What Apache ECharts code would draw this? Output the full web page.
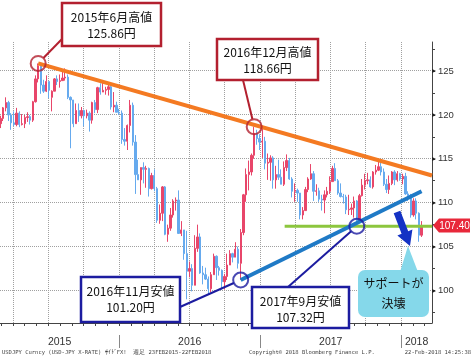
<!DOCTYPE html>
<html><head><meta charset="utf-8">
<script src="https://cdn.jsdelivr.net/npm/echarts@6/dist/echarts.min.js"></script>
<style>html,body{margin:0;padding:0;background:#fff}#c{width:472px;height:359px}</style>
</head><body><div id="c"></div>
<script>
// Weekly USD/JPY candles (week ending Fridays), 27 Feb 2015 - 23 Feb 2018
const firstWeek = Date.UTC(2015, 1, 27);
const opens = [
119.0,119.6,120.8,121.4,120.0,119.1,118.9,120.2,118.9,119.0,119.7,119.8,119.4,121.5,124.1,125.6,123.4,122.7,123.8,122.0,122.7,124.1,123.8,123.9,124.2,124.3,122.0,121.7,119.0,120.5,119.9,120.5,119.9,120.2,119.4,121.4,120.6,123.1,122.6,122.8,122.9,123.2,120.9,121.1,120.3,
120.2,117.2,117.0,118.8,121.1,116.9,113.2,112.6,114.0,113.8,113.9,111.6,113.1,111.6,108.0,108.8,111.8,106.4,107.1,108.6,110.2,110.3,106.5,106.9,104.2,102.2,102.5,100.6,104.8,106.1,102.0,101.8,101.3,100.2,101.8,103.9,102.6,102.3,101.0,101.6,102.9,104.2,103.8,104.7,103.1,106.6,110.9,113.2,113.5,115.4,117.9,117.3,
116.9,117.0,114.5,114.6,115.1,112.6,113.2,112.9,112.1,114.0,114.8,112.7,111.3,111.4,111.1,108.6,109.1,111.5,112.7,113.3,111.3,111.35,110.4,110.3,110.9,111.3,112.4,113.9,112.5,111.1,110.7,110.65,109.2,109.25,109.4,110.2,107.8,110.8,112.0,112.5,112.6,111.8,113.5,113.7,114.1,113.5,112.1,111.5,112.2,113.5,112.6,113.3,
112.7,113.0,111.0,110.8,108.6,110.2,108.8,106.3];
const highs = [
119.9,120.9,122.0,121.6,120.2,120.4,120.8,120.4,120.1,120.0,120.3,120.0,121.6,124.5,125.86,125.6,124.0,124.5,123.8,122.8,124.2,124.5,124.6,125.1,125.3,124.6,122.1,121.7,121.3,121.3,120.9,120.6,120.6,120.4,121.5,121.7,123.2,123.6,123.8,123.2,123.7,123.3,122.6,121.5,120.7,
120.5,118.5,118.9,121.7,121.4,117.7,114.9,114.0,114.6,114.2,114.0,113.4,113.8,111.8,109.8,111.9,111.9,107.5,109.4,110.4,110.6,111.4,107.9,106.9,106.8,103.3,103.0,106.3,107.5,106.5,102.8,102.6,101.6,102.1,104.2,104.0,102.8,102.4,101.9,104.2,104.6,104.3,105.5,105.0,107.0,111.0,113.9,114.8,115.6,118.66,118.3,117.8,
118.6,117.5,115.6,115.4,115.3,114.2,114.9,113.8,114.7,115.5,115.1,112.9,112.2,111.6,111.1,109.5,111.8,112.9,114.4,113.6,112.1,111.7,110.9,111.4,111.8,113.0,114.2,114.5,112.7,112.2,111.0,110.9,110.9,109.9,110.7,110.3,111.0,112.7,113.3,113.4,113.0,113.6,114.3,114.7,114.7,113.9,112.7,113.1,113.6,113.7,113.6,113.4,
113.3,113.4,111.3,111.0,110.5,110.5,108.9,107.9];
const lows = [
118.5,119.3,120.4,119.3,118.3,118.7,118.7,118.6,118.8,118.5,119.2,118.9,119.2,121.4,123.7,122.4,122.5,122.6,121.9,120.4,122.7,123.4,123.1,123.9,123.9,121.8,116.2,118.6,119.0,119.2,119.6,118.7,119.6,118.1,119.0,120.2,120.2,122.3,122.6,122.3,122.2,120.6,120.3,120.3,120.0,
116.7,116.5,116.0,118.0,116.5,111.0,112.6,110.9,112.2,111.7,110.7,111.5,111.3,107.7,107.6,107.9,106.3,105.55,106.8,108.3,109.1,106.5,106.2,103.5,99.0,101.5,99.9,100.6,104.4,101.9,100.7,101.2,99.55,99.8,101.8,101.2,101.7,100.1,100.1,101.2,102.9,103.2,103.8,102.5,101.2,106.3,110.1,111.4,113.1,115.0,116.6,116.0,
115.1,113.8,112.6,112.5,111.6,111.6,112.6,112.1,111.9,113.6,112.6,110.6,110.1,110.1,108.1,108.1,109.1,111.2,112.6,110.2,110.8,110.1,109.1,108.8,110.6,111.0,112.4,112.5,110.9,110.6,109.9,108.7,108.6,108.6,108.3,107.32,107.8,110.7,111.5,112.1,111.7,111.6,113.2,113.6,113.1,111.9,111.1,111.0,112.0,112.0,112.4,112.5,
112.1,110.9,110.2,108.3,108.4,108.1,105.55,106.1];
const closes = [
119.6,120.8,121.4,120.0,119.1,118.9,120.2,118.9,119.0,119.7,119.8,119.4,121.5,124.1,125.6,123.4,122.7,123.8,122.8,122.7,124.1,123.8,123.9,124.2,124.3,122.0,121.7,119.0,120.5,119.9,120.5,119.9,120.2,119.4,121.4,120.6,123.1,122.6,122.8,122.9,123.2,120.9,121.1,120.3,120.2,
117.2,117.0,118.8,121.1,116.9,113.2,112.6,114.0,113.8,113.9,111.6,113.1,111.6,108.0,108.8,111.8,106.4,107.1,108.6,110.2,110.3,106.5,106.9,104.2,102.2,102.5,100.6,104.8,106.1,102.0,101.8,101.3,100.2,101.8,103.9,102.6,102.3,101.0,101.6,102.9,104.2,103.8,104.7,103.1,106.6,110.9,113.2,113.5,115.4,117.9,117.3,116.9,
117.0,114.5,114.6,115.1,112.6,113.2,112.9,112.1,114.0,114.8,112.7,111.3,111.4,111.1,108.6,109.1,111.5,112.7,113.3,111.3,111.35,110.4,110.3,110.9,111.3,112.4,113.9,112.5,111.1,110.7,110.65,109.2,109.25,109.4,110.2,107.8,110.8,112.0,112.5,112.6,111.8,113.5,113.7,114.1,113.5,112.1,111.5,112.2,113.5,112.6,113.3,112.7,
113.0,111.0,110.8,108.6,110.2,108.8,106.3,107.4];

const yMajorTicks = [100, 105, 110, 115, 120, 125];
const yMinorTicks = [97.5, 102.5, 107.5, 112.5, 117.5, 122.5, 127.5];
const yearLabels = ['2015', '2016', '2017', '2018'];

// annotation anchors
const highPts = [[Date.UTC(2015,5,5), 125.86], [Date.UTC(2016,11,16), 118.66]];
const lowPts  = [[Date.UTC(2016,10,11), 101.20], [Date.UTC(2017,8,8), 107.32]];
const resistanceLine = [[Date.UTC(2015,5,5), 125.86], [Date.UTC(2018,2,22), 113.1]];
const supportLine = [[Date.UTC(2016,10,11), 101.20], [Date.UTC(2018,1,23), 111.3]];
const supportLevel = [[Date.UTC(2017,2,5), 107.32], [Date.UTC(2018,2,22), 107.32]];
const lastPrice = 107.40;

const xMin = Date.UTC(2015,1,26), xMax = Date.UTC(2018,2,22);
const yMin = 96.3, yMax = 128.3;

const weekDates = closes.map((_, i) => firstWeek + i * 7 * 864e5);
const candleData = weekDates.map((t, i) => [t, opens[i], closes[i], lows[i], highs[i]]);
const monthStarts = []; for (let y = 2015; y <= 2018; y++) for (let m = 0; m < 12; m++) { const t = Date.UTC(y, m, 1); if (t > xMin && t < xMax) monthStarts.push(t); }
const quarterStarts = monthStarts.filter(t => new Date(t).getUTCMonth() % 3 === 0);
const yearStarts = [2016, 2017, 2018].map(y => Date.UTC(y, 0, 1));

const chart = echarts.init(document.getElementById('c'));
chart.setOption({
  animation: false,
  backgroundColor: '#fff',
  grid: {left: 0, right: 40, top: 42, bottom: 36, containLabel: false, outerBoundsMode: 'none'},
  xAxis: {type: 'time', min: xMin, max: xMax,
    axisLine: {show: true, onZero: false, lineStyle: {color: '#444'}},
    axisTick: {show: true, customValues: monthStarts, length: 3, lineStyle: {color: '#444'}},
    axisLabel: {show: false}, splitLine: {show: false}},
  yAxis: {type: 'value', position: 'right', min: yMin, max: yMax, scale: true,
    axisLine: {show: true, lineStyle: {color: '#444'}},
    axisTick: {show: true, customValues: yMajorTicks.concat(yMinorTicks), length: 3, lineStyle: {color: '#444'}},
    axisLabel: {customValues: yMajorTicks, margin: 0, fontSize: 9.5, color: '#333', fontFamily: 'Liberation Sans',
      formatter: v => '{a|▸}' + v, rich: {a: {fontSize: 8, color: '#222', padding: [0, 2, 0, 0]}}},
    splitLine: {show: false}},
  series: [
    {type: 'candlestick', data: candleData, encode: {x: 0, y: [1, 2, 3, 4]}, barWidth: 1.8, z: 10,
      itemStyle: {color: '#e8466a', color0: '#66aaee', borderColor: '#e8466a', borderColor0: '#66aaee', borderWidth: 1}},
    {type: 'line', data: resistanceLine, symbol: 'none', z: 11, lineStyle: {color: '#f47a22', width: 4}},
    {type: 'line', data: supportLevel, symbol: 'none', z: 11, lineStyle: {color: '#8cc63e', width: 3}},
    {type: 'line', data: supportLine, symbol: 'none', z: 12, lineStyle: {color: '#1f7ac6', width: 4}},
    {type: 'scatter', data: highPts, symbol: 'circle', symbolSize: 15, z: 13,
      itemStyle: {color: 'rgba(0,0,0,0)', borderColor: '#b3202f', borderWidth: 2}},
    {type: 'scatter', data: lowPts, symbol: 'circle', symbolSize: 15, z: 13,
      itemStyle: {color: 'rgba(0,0,0,0)', borderColor: '#1c1ca0', borderWidth: 2}}
  ]
});

function px(p) { return chart.convertToPixel({gridIndex: 0}, p); }
const g = [];
const lX = px([xMin, yMin])[0], rX = px([xMax, yMin])[0];
const topY = Math.round(px([xMin, yMax])[1]), botY = Math.round(px([xMin, yMin])[1]);
// dotted grid at the tick positions
const gl = {stroke: '#a0a0a0', lineWidth: 1, lineDash: [1, 1]};
quarterStarts.forEach(t => { const x = Math.floor(px([t, 110])[0]) + 0.5; g.push({type: 'line', z: 9, silent: true, shape: {x1: x, y1: topY, x2: x, y2: botY}, style: gl}); });
yMajorTicks.forEach(v => { const y = Math.floor(px([xMin, v])[1]) + 0.5; g.push({type: 'line', z: 9, silent: true, shape: {x1: Math.ceil(lX), y1: y, x2: rX, y2: y}, style: gl}); });

const FONT = '12px "Noto Sans CJK JP"';
function box(x, y, w, h, color, lines, ty1, ty2) {
  g.push({type: 'rect', z: 20, shape: {x, y, width: w, height: h}, style: {fill: '#fff', stroke: color, lineWidth: 2.5}});
  g.push({type: 'text', z: 21, x: x + w / 2, y: ty1, style: {text: lines[0], font: FONT, fill: '#111', align: 'center', verticalAlign: 'middle'}});
  g.push({type: 'text', z: 21, x: x + w / 2, y: ty2, style: {text: lines[1], font: FONT, fill: '#111', align: 'center', verticalAlign: 'middle'}});
}
function connector(x1, y1, p, color) {
  const c = px(p); const dx = x1 - c[0], dy = y1 - c[1]; const L = Math.hypot(dx, dy);
  g.push({type: 'line', z: 19, shape: {x1, y1, x2: c[0] + dx / L * 7.5, y2: c[1] + dy / L * 7.5}, style: {stroke: color, lineWidth: 2}});
}
const RED = '#b3202f', NAVY = '#1c1ca0';
connector(62, 39, highPts[0], RED);
box(62, 3, 99, 43, RED, ['2015年6月高値', '125.86円'], 17, 33);
connector(243, 80, highPts[1], RED);
box(217, 39, 101, 41, RED, ['2016年12月高値', '118.66円'], 52, 68);
connector(180, 307, lowPts[0], NAVY);
box(81, 277, 99, 45, NAVY, ['2016年11月安値', '101.20円'], 291, 307);
connector(288, 287, lowPts[1], NAVY);
box(252, 287, 97, 41, NAVY, ['2017年9月安値', '107.32円'], 301, 317);

// callout
g.push({type: 'polygon', z: 20, shape: {points: [[400, 272], [408, 246], [418, 272]]}, style: {fill: '#85d8ea'}});
g.push({type: 'rect', z: 20, shape: {x: 358, y: 270, width: 71, height: 47, r: 7}, style: {fill: '#85d8ea'}});
g.push({type: 'text', z: 21, x: 393.5, y: 293.5, style: {text: 'サポートが\n決壊', font: '12px "Noto Sans CJK JP"', lineHeight: 20, fill: '#111', align: 'center', verticalAlign: 'middle'}});
// arrow
g.push({type: 'polygon', z: 20, shape: {points: [[400.3, 210.75], [408.2, 231.25], [412.4, 229.6], [410, 246], [397.4, 235.4], [401.6, 233.75], [393.7, 213.25]]}, style: {fill: '#1432c4'}});

// last price tag
const ty = px([xMax, lastPrice])[1];
g.push({type: 'polygon', z: 20, shape: {points: [[433, ty], [439, ty - 7], [470, ty - 7], [470, ty + 7], [439, ty + 7]]}, style: {fill: '#e8283a'}});
g.push({type: 'text', z: 21, x: 454.5, y: ty + 0.5, style: {text: lastPrice.toFixed(2), font: '10px "Liberation Sans"', fill: '#fff', align: 'center', verticalAlign: 'middle'}});

// year labels & separators
const bx = [lX].concat(yearStarts.map(t => px([t, 110])[0])).concat([rX]);
yearLabels.forEach((lab, i) => {
  g.push({type: 'text', z: 10, x: (bx[i] + bx[i + 1]) / 2, y: 342, style: {text: lab, font: '10.5px "Liberation Sans"', fill: '#333', align: 'center', verticalAlign: 'middle'}});
});
yearStarts.forEach(t => { const x = Math.round(px([t, 110])[0]) + 0.5; g.push({type: 'line', z: 10, shape: {x1: x, y1: 335, x2: x, y2: 348}, style: {stroke: '#888', lineWidth: 1}}); });

// footer
const foot = '5.5px "DejaVu Sans Mono"';
g.push({type: 'text', z: 10, x: 2, y: 353, style: {text: 'USDJPY Curncy (USD-JPY X-RATE) ｻｲﾄﾞFX!  週足 23FEB2015-22FEB2018', font: foot, fill: '#444', verticalAlign: 'middle'}});
g.push({type: 'text', z: 10, x: 249, y: 353, style: {text: 'Copyright© 2018 Bloomberg Finance L.P.', font: foot, fill: '#444', verticalAlign: 'middle'}});
g.push({type: 'text', z: 10, x: 471, y: 353, style: {text: '22-Feb-2018 14:25:38', font: foot, fill: '#444', align: 'right', verticalAlign: 'middle'}});

chart.setOption({graphic: {elements: g}});
</script></body></html>
